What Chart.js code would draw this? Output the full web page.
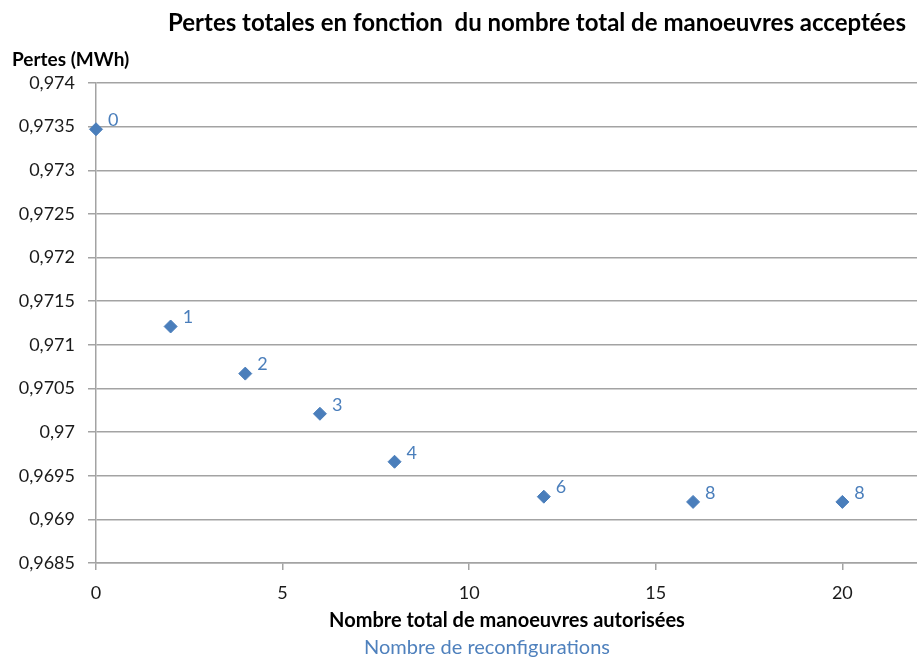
<!DOCTYPE html>
<html>
<head>
<meta charset="utf-8">
<script src="https://cdn.jsdelivr.net/npm/chart.js@4"></script>
<style>
  body { margin: 0; background: #fff; }
  #canvas { display: block; }
</style>
</head>
<body>
<canvas id="canvas" width="917" height="657"></canvas>
<script>
// manoeuvres autorisées (x), pertes en MWh (y), nombre de reconfigurations (étiquettes)
let manoeuvres = [0, 2, 4, 6, 8, 12, 16, 20];
let pertes = [0.97347, 0.97121, 0.97067, 0.97021, 0.96966, 0.96926, 0.9692, 0.9692];
let reconfigs = [0, 1, 2, 3, 4, 6, 8, 8];

let points = manoeuvres.map((m, i) => ({ x: m, y: pertes[i] }));

const gridColor = "#a3a3a3";
const blue = "#4a7ebb";

// textes : titre, titres d'axes, étiquettes des points
const textes = {
  id: "textes",
  afterDatasetsDraw(chart) {
    const c = chart.ctx;
    c.save();
    c.textBaseline = "middle";

    // étiquettes = nombre de reconfigurations
    c.fillStyle = blue;
    c.font = "18px Lato";
    c.textAlign = "left";
    chart.getDatasetMeta(0).data.forEach((el, i) => {
      c.fillText(String(reconfigs[i]), el.x + 12, el.y - 9);
    });

    c.fillStyle = "#000";
    c.textAlign = "center";
    c.font = "bold 24px Lato";
    c.fillText("Pertes totales en fonction  du nombre total de manoeuvres acceptées", 537, 23);

    c.textAlign = "left";
    c.font = "bold 19px Lato";
    c.fillText("Pertes (MWh)", 12, 60);

    c.textAlign = "center";
    c.font = "bold 20px Lato";
    c.fillText("Nombre total de manoeuvres autorisées", 507, 621);
    c.fillStyle = "#4f81bd";
    c.font = "20px Lato";
    c.fillText("Nombre de reconfigurations", 487, 648);
    c.restore();
  }
};

const ctx = document.getElementById("canvas");
const myChart = new Chart(ctx, {
  type: "scatter",
  data: {
    datasets: [{
      label: "Pertes",
      data: points,
      backgroundColor: blue,
      borderColor: blue,
      pointStyle: "rectRot",
      pointRadius: 6.5,
      pointHoverRadius: 6.5,
      clip: false
    }]
  },
  options: {
    responsive: false,
    animation: false,
    layout: { autoPadding: false, padding: { top: 83, right: 0, left: 0, bottom: 0 } },
    plugins: {
      legend: { display: false },
      tooltip: { enabled: false }
    },
    scales: {
      x: {
        type: "linear",
        min: 0,
        max: 22,
        afterFit: s => { s.height = 94; },
        border: { color: gridColor, width: 1.5 },
        grid: { drawOnChartArea: false, drawTicks: true, tickLength: 7, color: gridColor, lineWidth: 1.5 },
        ticks: {
          stepSize: 5,
          includeBounds: false,
          padding: 12,
          color: "#1a1a1a",
          font: { family: "Lato", size: 18 }
        }
      },
      y: {
        min: 0.9685,
        max: 0.974,
        afterFit: s => { s.width = 96; },
        border: { color: gridColor, width: 1.5 },
        grid: { color: gridColor, lineWidth: 1.5, tickLength: 8 },
        ticks: {
          stepSize: 0.0005,
          padding: 13,
          color: "#1a1a1a",
          font: { family: "Lato", size: 18 },
          callback: v => String(Number(v.toFixed(4))).replace(".", ",")
        }
      }
    }
  },
  plugins: [textes]
});
</script>
</body>
</html>
